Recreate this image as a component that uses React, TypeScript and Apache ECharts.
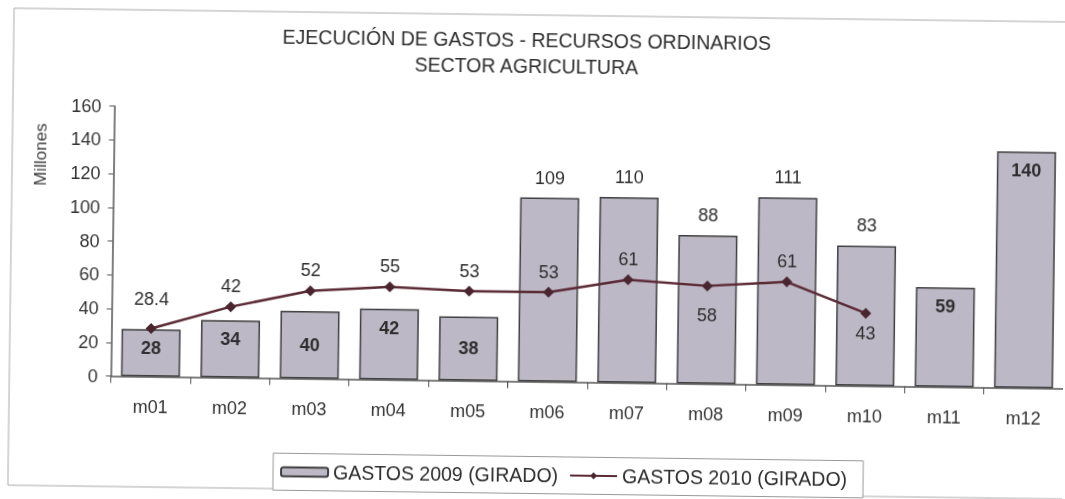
import React, { useEffect, useRef } from "react";
import * as echarts from "echarts";

const categories = ["m01", "m02", "m03", "m04", "m05", "m06", "m07", "m08", "m09", "m10", "m11", "m12"];
const gastos2009 = [28, 34, 40, 42, 38, 109, 110, 88, 111, 83, 59, 140];
const gastos2010 = [28.4, 42, 52, 55, 53, 53, 61, 58, 61, 43];
const barLabelPos = ["insideTop", "insideTop", "inside", "insideTop", "inside", "top", "top", "top", "top", "top", "insideTop", "insideTop"];
const lineLabelPos = ["top", "top", "top", "top", "top", "top", "top", "bottom", "top", "bottom"];
const yTicks = { min: 0, max: 160, interval: 20 };

const FONT = "'Liberation Sans', Arial, sans-serif";

export default function App() {
  const ref = useRef<HTMLDivElement>(null);
  useEffect(() => {
    if (!ref.current) return;
    const chart = echarts.init(ref.current, undefined, { renderer: "svg" });
    const barData = gastos2009.map((v, i) => {
      const pos = barLabelPos[i];
      const inside = pos !== "top";
      return {
        value: v,
        label: {
          position: pos,
          distance: inside ? 10 : 11,
          fontWeight: inside ? "bold" : "normal",
        },
      };
    });
    const lineData = gastos2010.map((v, i) => ({
      value: v,
      label: {
        position: lineLabelPos[i],
        distance: i === 0 ? 15 : i === 7 ? 15 : 6,
      },
    }));
    chart.setOption({
      animation: false,
      textStyle: { fontFamily: FONT },
      title: {
        text: "EJECUCIÓN DE GASTOS - RECURSOS ORDINARIOS\nSECTOR AGRICULTURA",
        left: 524,
        top: 27,
        padding: 0,
        textAlign: "center",
        textStyle: {
          fontFamily: FONT,
          fontSize: 19.5,
          fontWeight: "normal",
          color: "#2e2e2e",
          lineHeight: 26,
        },
      },
      graphic: [
        {
          type: "rect",
          shape: { x: 11, y: 15, width: 1070, height: 477 },
          style: { fill: "none", stroke: "#aaa", lineWidth: 1 },
          silent: true,
          z: -10,
        },
        {
          type: "text",
          x: 39,
          y: 161,
          rotation: Math.PI / 2,
          style: {
            text: "Millones",
            fontFamily: FONT,
            fontSize: 17,
            fill: "#3a3a3a",
            align: "center",
            verticalAlign: "middle",
          },
        },
      ],
      legend: {
        left: 276,
        top: 456.5,
        padding: [8.5, 16, 8.5, 7],
        borderColor: "#999",
        borderWidth: 1,
        backgroundColor: "#fff",
        itemWidth: 47,
        itemHeight: 9,
        itemGap: 11,
        textStyle: { fontFamily: FONT, fontSize: 19.5, color: "#2e2e2e", lineHeight: 18 },
        data: ["GASTOS 2009 (GIRADO)", "GASTOS 2010 (GIRADO)"],
      },
      grid: { left: 112.5, top: 111.5, width: 959, height: 270, containLabel: false },
      xAxis: {
        type: "category",
        data: categories,
        axisLine: { lineStyle: { color: "#555", width: 1.5 } },
        axisTick: { show: true, length: 7, lineStyle: { color: "#555" } },
        axisLabel: { fontFamily: FONT, fontSize: 18, color: "#333", margin: 21 },
      },
      yAxis: {
        type: "value",
        min: yTicks.min,
        max: yTicks.max,
        interval: yTicks.interval,
        splitLine: { show: false },
        axisLine: { show: true, lineStyle: { color: "#555", width: 1.5 } },
        axisTick: { show: true, length: 5, lineStyle: { color: "#555" } },
        axisLabel: { fontFamily: FONT, fontSize: 18, color: "#333", margin: 13 },
      },
      series: [
        {
          name: "GASTOS 2009 (GIRADO)",
          type: "bar",
          data: barData,
          barWidth: 59,
          itemStyle: { color: "#bcb8c6", borderColor: "#3f3f3f", borderWidth: 1.5 },
          label: { show: true, fontFamily: FONT, fontSize: 18, color: "#2e2e2e" },
          z: 2,
        },
        {
          name: "GASTOS 2010 (GIRADO)",
          type: "line",
          data: lineData,
          symbol: "diamond",
          symbolSize: 11,
          lineStyle: { color: "#5a2a35", width: 2.5 },
          itemStyle: { color: "#4a2530" },
          label: { show: true, fontFamily: FONT, fontSize: 18, color: "#2e2e2e" },
          z: 3,
        },
      ],
    });
    return () => chart.dispose();
  }, []);
  return (
    <div
      ref={ref}
      style={{
        position: "fixed",
        left: 0,
        top: 0,
        width: 1065,
        height: 499,
        background: "#fff",
        transform: "rotate(0.75deg)",
        transformOrigin: "50% 50%",
      }}
    />
  );
}
